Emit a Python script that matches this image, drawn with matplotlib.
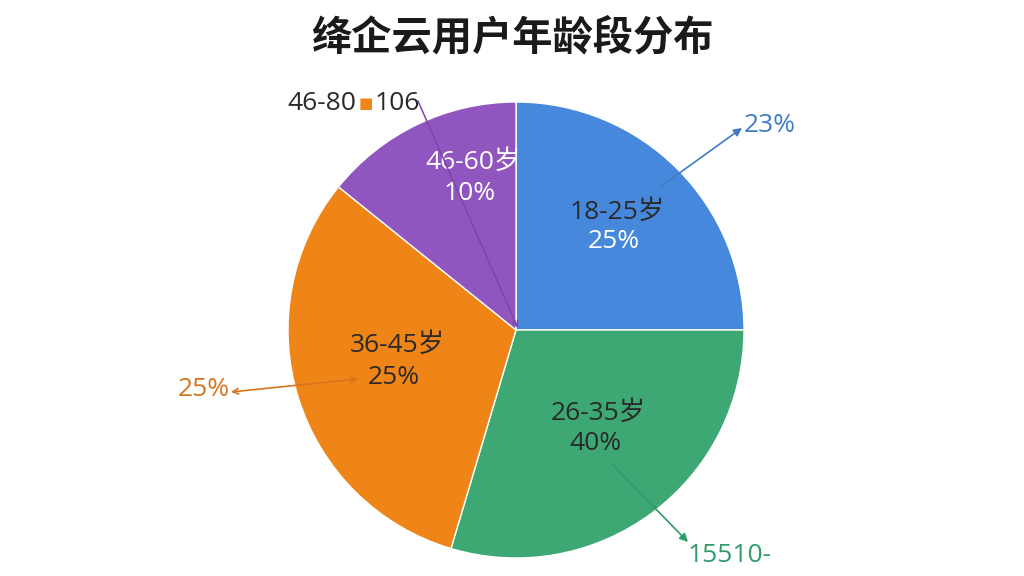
import matplotlib
matplotlib.use('Agg')
import matplotlib.pyplot as plt
import numpy as np

plt.rcParams['font.family'] = ['Open Sans', 'Noto Sans CJK SC', 'DejaVu Sans']

# data
title = '绛企云用户年龄段分布'
groups = ['18-25岁', '26-35岁', '36-45岁', '46-60岁']
pct_labels = ['25%', '40%', '25%', '10%']
# wedge sizes as drawn (the printed percentages do not match the drawing)
wedge_sizes = [25.0, 29.6, 31.2, 14.2]
colors = ['#4689DC', '#3DA874', '#EF8417', '#9155BF']

# callout texts
blue_note = '23%'
orange_note = '25%'
green_note = '15510-'
purple_note = ['46-80', '■', '106']

W, H = 1024, 576
fig = plt.figure(figsize=(W / 100, H / 100), dpi=100)
ax = fig.add_axes([0, 0, 1, 1])

def P(x, y):
    # pixel coords (top-left origin) -> axes data coords
    return (x, H - y)

cx, cy = P(516, 330)
ax.pie(wedge_sizes, colors=colors, startangle=90, counterclock=False,
       center=(cx, cy), radius=228,
       wedgeprops=dict(edgecolor='white', linewidth=1.0))

ax.set_xlim(0, W)
ax.set_ylim(0, H)
ax.set_aspect('equal')
ax.axis('off')

# labels inside slices
dark = '#2A2A2A'
fs = 19
lab_pos = [(617, 212, 241), (598, 413, 443), (397, 345, 377), (473, 162, 193)]
name_col = [dark, dark, dark, 'white']
pct_col = ['white', dark, dark, 'white']
for i in range(len(groups)):
    x, y1, y2 = lab_pos[i]
    ax.text(*P(x, y1), groups[i], ha='center', va='center', fontsize=fs, color=name_col[i])
    ax.text(*P(x - 3, y2), pct_labels[i], ha='center', va='center', fontsize=fs, color=pct_col[i])

ax.text(*P(512, 38), title, ha='center', va='center', fontsize=29, fontweight='bold',
        color='#1A1A1A', family=['Noto Sans CJK SC', 'DejaVu Sans'])

# blue callout
ax.annotate('', xy=P(742, 128), xytext=P(660, 187),
            arrowprops=dict(arrowstyle='-|>', color='#3F7CC4', lw=1.2, mutation_scale=12,
                            shrinkA=0, shrinkB=0))
ax.text(*P(744, 125), blue_note, ha='left', va='center', fontsize=fs, color='#3F7CC4')

# orange callout
ax.annotate('', xy=P(231, 392), xytext=P(358, 379),
            arrowprops=dict(arrowstyle='<->', color='#D8741E', lw=1.2, mutation_scale=10,
                            shrinkA=0, shrinkB=0))
ax.text(*P(204, 390), orange_note, ha='center', va='center', fontsize=fs, color='#D8741E')

# green callout
ax.annotate('', xy=P(688, 542), xytext=P(613, 465),
            arrowprops=dict(arrowstyle='-|>', color='#2F9A6A', lw=1.2, mutation_scale=12,
                            shrinkA=0, shrinkB=0))
ax.text(*P(688, 556), green_note, ha='left', va='center', fontsize=fs, color='#2F9A6A')

# purple callout
ax.annotate('', xy=P(518, 328), xytext=P(418, 101),
            arrowprops=dict(arrowstyle='->', color='#7D45A8', lw=1.1, mutation_scale=10,
                            shrinkA=0, shrinkB=0))
ax.text(*P(356, 103), purple_note[0], ha='right', va='center', fontsize=fs, color=dark)
ax.text(*P(366, 104), purple_note[1], ha='center', va='center', fontsize=11, color='#EF8417',
        family=['DejaVu Sans'])
ax.text(*P(375, 103), purple_note[2], ha='left', va='center', fontsize=fs, color=dark)

fig.savefig('out.png', dpi=100, facecolor='white')
